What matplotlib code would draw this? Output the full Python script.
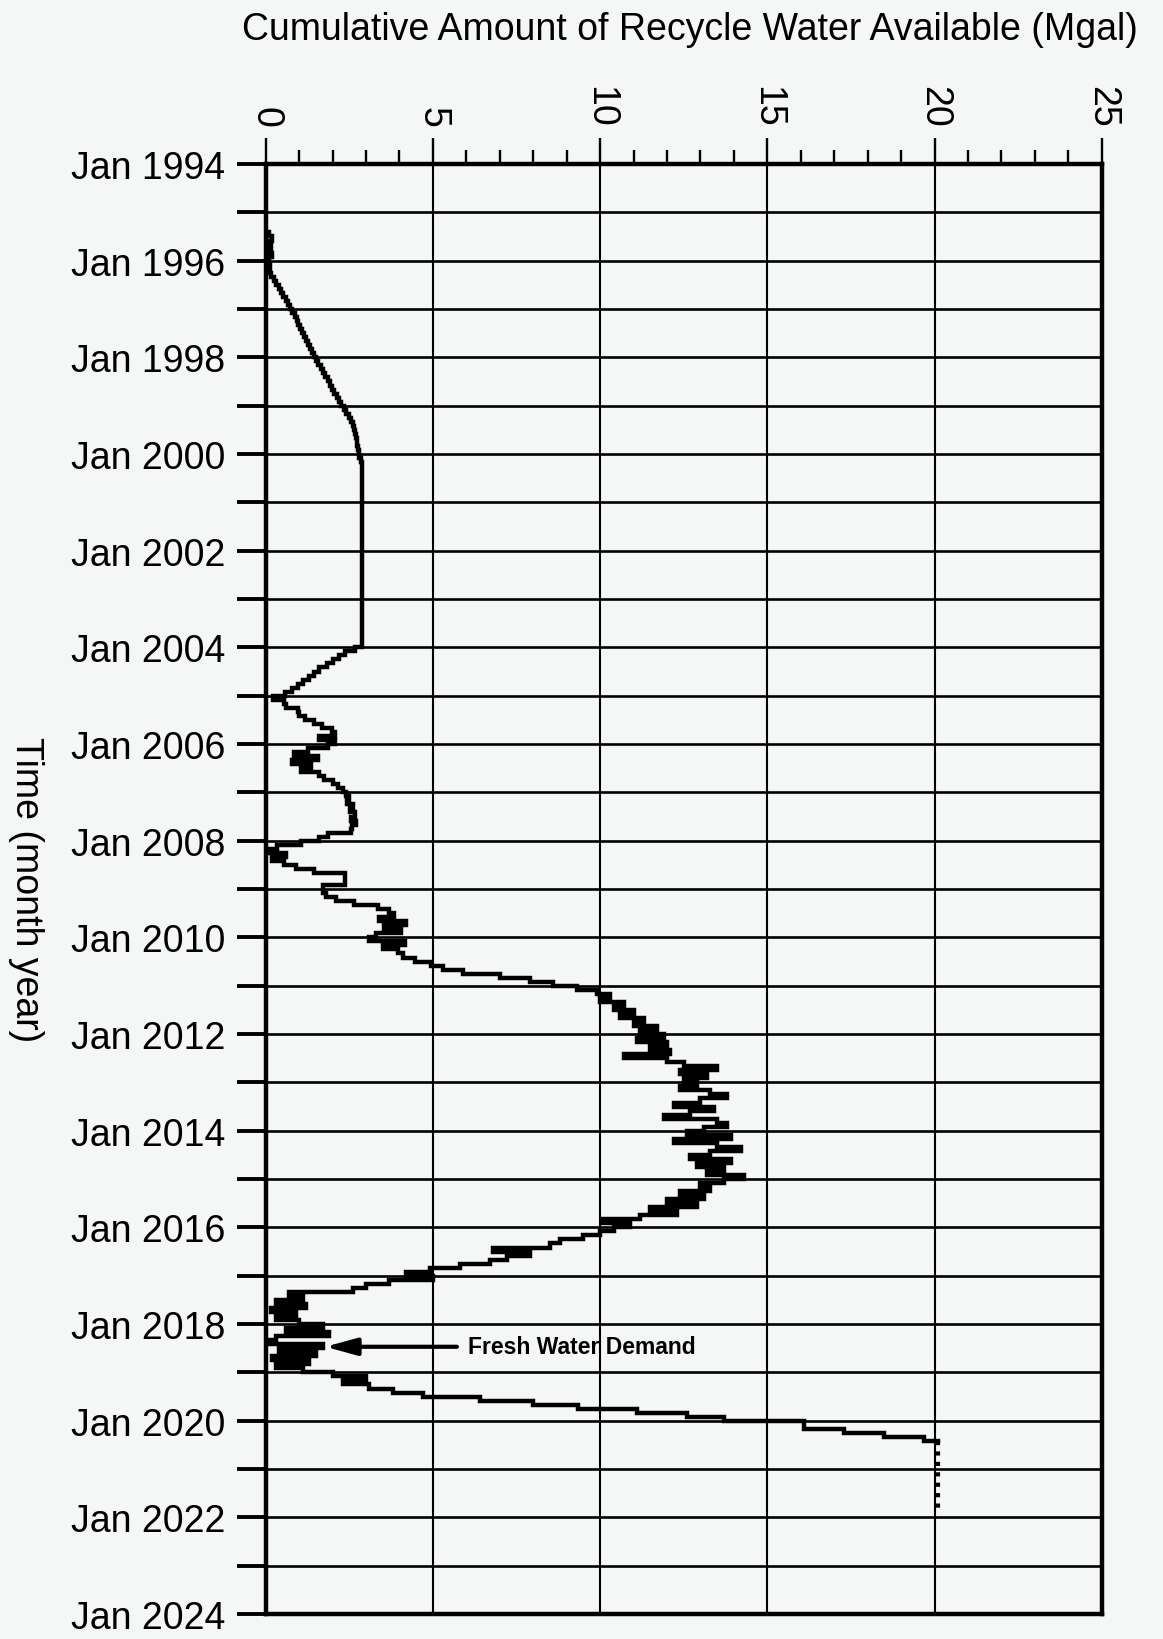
import numpy as np
import matplotlib
matplotlib.use("Agg")
import matplotlib.pyplot as plt

plt.rcParams['font.family'] = ['Liberation Sans', 'DejaVu Sans']

# Monthly cumulative recycle water available (Mgal); first record is June 1995
START_YEAR = 1995 + 5 / 12
PROJECTION_START = 2020 + 5 / 12   # values from here on are drawn dotted

y1995 = [0.10, 0.18, 0.05, 0.15, 0.05, 0.18, 0.08]
y1996 = [0.10, 0.12, 0.10, 0.15, 0.25, 0.32, 0.40, 0.46, 0.53, 0.60, 0.67, 0.73]
y1997 = [0.80, 0.86, 0.92, 0.97, 1.03, 1.09, 1.14, 1.20, 1.26, 1.32, 1.38, 1.44]
y1998 = [1.50, 1.57, 1.64, 1.71, 1.78, 1.85, 1.92, 1.98, 2.05, 2.12, 2.19, 2.26]
y1999 = [2.33, 2.40, 2.48, 2.55, 2.61, 2.64, 2.67, 2.69, 2.72, 2.72, 2.76, 2.78]
y2000 = [2.80, 2.85, 2.87, 2.87, 2.87, 2.87, 2.87, 2.87, 2.87, 2.87, 2.87, 2.87]
y2001 = [2.87, 2.87, 2.87, 2.87, 2.87, 2.87, 2.87, 2.87, 2.87, 2.87, 2.87, 2.87]
y2002 = [2.87, 2.87, 2.87, 2.87, 2.87, 2.87, 2.87, 2.87, 2.87, 2.87, 2.87, 2.87]
y2003 = [2.87, 2.87, 2.87, 2.87, 2.87, 2.87, 2.87, 2.87, 2.87, 2.87, 2.87, 2.87]
y2004 = [2.67, 2.37, 2.20, 2.00, 1.82, 1.60, 1.45, 1.28, 1.10, 0.95, 0.78, 0.58]
y2005 = [0.22, 0.55, 0.60, 0.95, 1.00, 1.18, 1.43, 1.68, 1.97, 2.07, 1.60, 2.07]
y2006 = [1.85, 1.25, 0.85, 1.55, 0.80, 1.35, 1.05, 1.60, 1.75, 2.00, 2.15, 2.30]
y2007 = [2.40, 2.50, 2.42, 2.60, 2.52, 2.66, 2.55, 2.70, 2.58, 2.55, 1.85, 1.60]
y2008 = [1.05, 0.35, 0.05, 0.60, 0.20, 0.55, 0.90, 1.45, 2.37, 2.37, 2.37, 1.70]
y2009 = [1.70, 1.80, 2.10, 2.65, 3.35, 3.70, 3.85, 3.40, 4.20, 3.55, 4.05, 3.30]
y2010 = [3.10, 4.15, 3.50, 3.95, 4.10, 4.45, 4.95, 5.30, 5.90, 7.00, 7.90, 8.60]
y2011 = [9.30, 9.90, 10.30, 10.00, 10.70, 10.40, 11.00, 10.60, 11.30, 11.00, 11.70, 11.20]
y2012 = [11.90, 11.10, 12.00, 11.50, 12.10, 10.70, 12.00, 12.50, 13.50, 12.40, 13.20, 12.50]
y2013 = [12.90, 12.40, 13.30, 13.80, 13.00, 12.20, 13.40, 12.70, 11.90, 13.50, 13.80, 13.10]
y2014 = [12.60, 13.90, 12.20, 13.50, 14.20, 13.30, 12.70, 13.90, 12.90, 13.70, 13.20, 14.30]
y2015 = [13.70, 13.00, 13.30, 12.40, 13.10, 12.00, 12.90, 11.50, 12.30, 11.20, 10.10, 10.90]
y2016 = [10.40, 10.00, 9.50, 8.80, 8.50, 6.80, 7.90, 7.20, 6.70, 5.80, 4.90, 4.20]
y2017 = [5.00, 3.70, 3.00, 2.60, 0.70, 1.10, 0.30, 1.20, 0.15, 0.90, 0.30, 1.00]
y2018 = [1.70, 0.60, 1.90, 0.30, 0.05, 1.70, 0.40, 1.50, 0.20, 1.30, 0.30, 1.10]
y2019 = [2.00, 3.00, 2.30, 3.10, 3.80, 4.70, 6.40, 8.00, 9.35, 11.10, 12.60, 13.70]
y2020 = [16.10, 16.10, 17.30, 18.50, 19.70, 20.10, 20.10, 20.10, 20.10, 20.10, 20.10, 20.10]
y2021 = [20.10, 20.10, 20.10, 20.10, 20.10, 20.10, 20.10, 20.10, 20.10, 20.10]

# Axis ticks and labels
x_major = [0, 5, 10, 15, 20, 25]
labeled_years = list(range(1994, 2025, 2))
all_years = list(range(1994, 2025))
year_labels = [f"Jan {y}" for y in labeled_years]

annotation_text = "Fresh Water Demand"
annotation_point = (1.78, 2018.47)
annotation_text_pos = (6.05, 2018.47)

values = np.concatenate([
    y1995, y1996, y1997, y1998, y1999, y2000, y2001, y2002, y2003, y2004,
    y2005, y2006, y2007, y2008, y2009, y2010, y2011, y2012, y2013, y2014,
    y2015, y2016, y2017, y2018, y2019, y2020, y2021,
])
# month boundaries (decimal years); each value holds for one month
edges = START_YEAR + np.arange(len(values) + 1) / 12.0
vals_ext = np.append(values, values[-1])
k = int(round((PROJECTION_START - START_YEAR) * 12))

BG = '#f5f6f6'
fig = plt.figure(figsize=(11.63, 16.40), dpi=100, facecolor=BG)
ax = fig.add_axes([0.2285, 0.0152, 0.7188, 0.8842], facecolor=BG)

ax.set_xlim(0, 25)
ax.set_ylim(2024, 1994)

# grid
for yr in all_years:
    ax.axhline(yr, color='black', lw=1.9, zorder=1)
for xv in x_major:
    ax.axvline(xv, color='black', lw=1.5, zorder=1)

# data curve: solid record, dotted tail
ax.plot(vals_ext[:k + 1], edges[:k + 1], drawstyle='steps-pre',
        color='black', lw=3.2, solid_joinstyle='miter', zorder=3)
ax.plot(vals_ext[k:], edges[k:], drawstyle='steps-pre',
        color='black', lw=3.0, linestyle=(0, (1.0, 1.5)), zorder=3)

# top x axis
ax.xaxis.tick_top()
ax.set_xticks(x_major)
ax.set_xticks(np.arange(0, 26, 1), minor=True)
ax.set_xticklabels([str(v) for v in x_major], rotation=-90, fontsize=27)
ax.tick_params(axis='x', which='major', direction='out', length=19, width=1.7, pad=8)
ax.tick_params(axis='x', which='minor', direction='out', length=10, width=1.7)

# left y axis
ax.set_yticks(labeled_years)
ax.set_yticklabels(year_labels, fontsize=27)
ax.set_yticks(all_years, minor=True)
ax.tick_params(axis='y', which='both', direction='out', length=21, width=2.8, pad=8)
ax.tick_params(axis='y', which='minor', labelleft=False)

for side in ['left', 'top', 'bottom', 'right']:
    ax.spines[side].set_linewidth(3.2)
    ax.spines[side].set_zorder(4)

ax.set_xlabel("Cumulative Amount of Recycle Water Available (Mgal)", fontsize=27)
ax.xaxis.set_label_position('top')
ax.xaxis.set_label_coords(0.5075, 1.0862)

ax.set_ylabel("Time (month year)", fontsize=27, rotation=-90)
ax.yaxis.label.set_horizontalalignment('center')
ax.yaxis.label.set_verticalalignment('center')
ax.yaxis.set_label_coords(-0.2867, 0.5)

ax.annotate(annotation_text, xy=annotation_point, xytext=annotation_text_pos,
            ha='left', va='center', fontsize=16.5, fontweight='bold',
            arrowprops=dict(arrowstyle='-|>,head_length=0.95,head_width=0.26',
                            mutation_scale=20, color='black', lw=3.0,
                            shrinkA=6, shrinkB=0),
            zorder=5)

fig.savefig('out.png', dpi=100, facecolor=BG)
